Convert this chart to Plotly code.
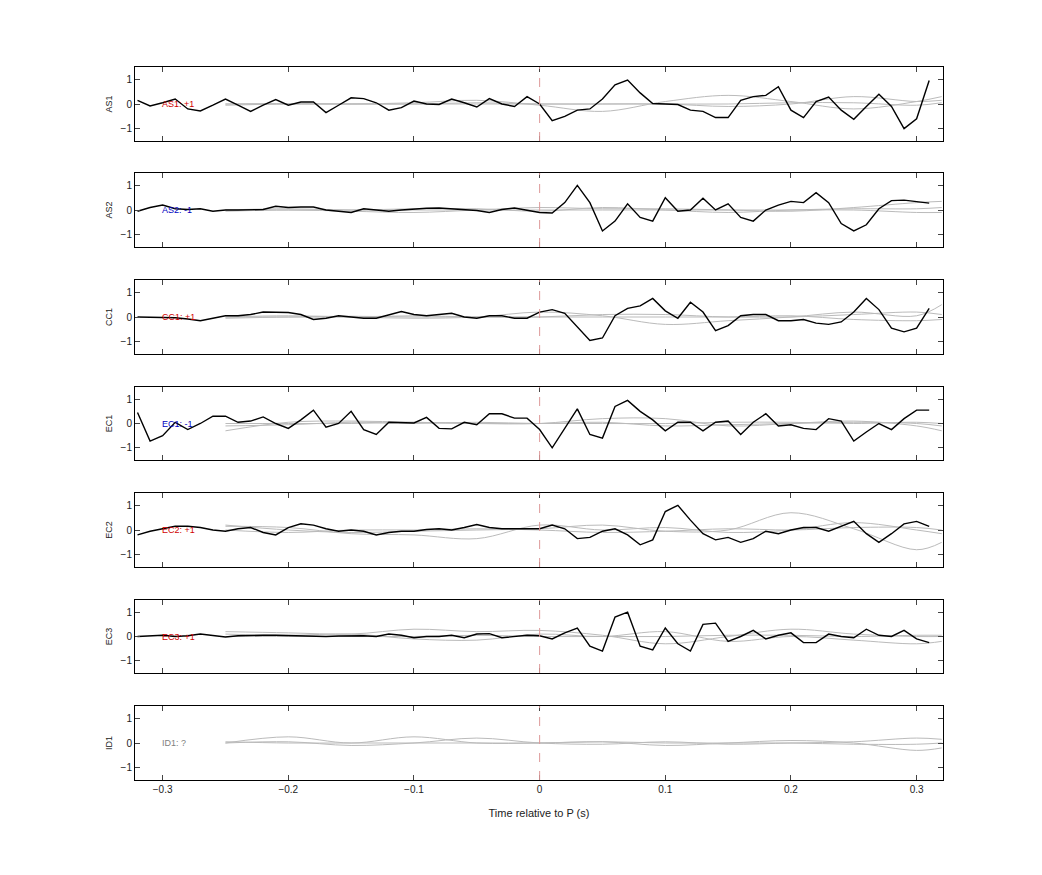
import plotly.graph_objects as go

T = [round(-0.32 + 0.01 * i, 2) for i in range(64)]
G_T = [-0.25, -0.2, -0.15, -0.1, -0.05, 0, 0.05, 0.1, 0.15, 0.2, 0.25, 0.3, 0.32]

NAMES = ["AS1", "AS2", "CC1", "EC1", "EC2", "EC3", "ID1"]
LABELS = ["AS1: +1", "AS2: -1", "CC1: +1", "EC1: -1", "EC2: +1", "EC3: +1", "ID1: ?"]
LABEL_COLORS = ["#d00000", "#0000c0", "#d00000", "#0000c0", "#d00000", "#d00000", "#808080"]

AS1 = [0.15,-0.08,0.05,0.2,-0.2,-0.28,-0.05,0.2,-0.05,-0.3,-0.05,0.18,-0.05,0.08,0.08,-0.35,-0.05,0.25,0.22,0.05,
       -0.25,-0.15,0.12,0.0,-0.02,0.2,0.05,-0.12,0.22,0.0,-0.1,0.3,0.0,-0.68,-0.5,-0.25,-0.2,0.2,0.78,0.97,
       0.45,0.02,0.0,-0.02,-0.25,-0.3,-0.55,-0.55,0.15,0.3,0.35,0.7,-0.25,-0.55,0.1,0.28,-0.25,-0.62,-0.1,0.4,
       -0.1,-1.0,-0.6,0.95]
AS2 = [-0.05,0.1,0.2,0.05,0.02,0.05,-0.05,0.0,0.0,0.0,0.02,0.15,0.1,0.12,0.12,0.0,-0.05,-0.1,0.05,0.0,
       -0.05,0.0,0.05,0.07,0.08,0.05,0.0,-0.02,-0.1,0.02,0.08,0.0,-0.1,-0.12,0.3,1.0,0.3,-0.85,-0.45,0.25,
       -0.3,-0.45,0.5,-0.05,0.0,0.48,0.0,0.25,-0.3,-0.45,0.0,0.2,0.35,0.3,0.7,0.3,-0.55,-0.85,-0.6,0.05,
       0.38,0.4,0.35,0.28]
CC1 = [0.0,0.0,0.0,-0.03,-0.08,-0.15,-0.05,0.05,0.05,0.1,0.2,0.18,0.18,0.1,-0.1,-0.05,0.05,0.0,-0.05,-0.05,
       0.1,0.22,0.1,0.05,0.1,0.15,0.0,-0.05,0.05,0.05,-0.05,-0.05,0.2,0.3,0.15,-0.4,-0.95,-0.85,0.05,0.35,
       0.45,0.75,0.25,-0.05,0.6,0.2,-0.55,-0.35,0.05,0.1,0.1,-0.15,-0.15,-0.1,-0.25,-0.3,-0.2,0.2,0.75,0.3,
       -0.45,-0.6,-0.45,0.35]
EC1 = [0.45,-0.72,-0.5,0.05,-0.25,0.0,0.3,0.3,0.05,0.1,0.27,0.0,-0.2,0.15,0.55,-0.15,0.0,0.5,-0.25,-0.45,
       0.05,0.05,0.02,0.25,-0.2,-0.22,0.05,-0.05,0.4,0.4,0.22,0.22,-0.25,-1.0,-0.2,0.6,-0.45,-0.6,0.7,0.95,
       0.5,0.15,-0.3,0.05,0.05,-0.3,0.05,0.1,-0.45,0.05,0.4,-0.1,-0.05,-0.2,-0.25,0.2,0.1,-0.72,-0.35,0.0,
       -0.25,0.2,0.55,0.55]
EC2 = [-0.2,-0.05,0.05,0.15,0.15,0.1,0.0,-0.05,0.05,0.1,-0.1,-0.2,0.1,0.25,0.2,0.05,-0.05,0.0,-0.05,-0.2,
       -0.1,-0.05,-0.05,0.02,0.05,0.0,0.1,0.22,0.1,0.05,0.05,0.05,0.05,0.2,0.05,-0.35,-0.3,-0.05,0.05,-0.2,
       -0.6,-0.4,0.75,1.0,0.4,-0.15,-0.4,-0.3,-0.5,-0.35,-0.05,-0.15,0.0,0.1,0.1,-0.05,0.15,0.35,-0.15,-0.5,
       -0.15,0.25,0.35,0.15]
EC3 = [0.0,0.02,0.05,0.0,0.03,0.1,0.03,-0.02,0.03,0.05,0.05,0.05,0.03,0.02,0.0,0.0,0.02,0.03,0.03,0.0,
       0.1,0.05,-0.05,0.0,0.0,0.05,-0.05,0.1,0.12,-0.05,0.0,0.05,0.03,-0.1,0.15,0.35,-0.4,-0.6,0.8,1.0,
       -0.4,-0.55,0.35,-0.3,-0.6,0.5,0.55,-0.2,0.0,0.25,-0.1,0.05,0.15,-0.25,-0.25,0.1,0.0,-0.05,0.3,0.05,
       0.0,0.25,-0.1,-0.25]
BLACK = [AS1, AS2, CC1, EC1, EC2, EC3, None]

GREY = [
    [[0,0,0,0.05,0.15,-0.05,-0.3,0.1,0.35,0.1,-0.2,0.1,0.3],
     [0,0.02,0,0,0.05,0,0,0,-0.1,0,0.3,0.1,0.15],
     [-0.05,0,0,0,0,0,0,0,0,0.05,0.05,-0.05,0.05]],
    [[-0.05,0,-0.05,-0.1,0,0.1,0.05,0.05,0,-0.05,0.1,0.3,0.35],
     [0,0.05,0,0.05,0.05,-0.05,0.1,0,-0.1,0,0.05,0.05,0.1],
     [0,0,0,0,0,0,0,0,0,0,0,-0.1,-0.1]],
    [[0,0.05,0,-0.05,0,0.2,0.05,-0.3,-0.15,0,0.2,0.05,0.5],
     [0,0,0,0.05,0,0,0.1,0.1,0,0.05,-0.1,-0.15,-0.1],
     [-0.05,0,0.03,0,0,0,0,0,0,0,0.1,0.2,0.1]],
    [[-0.3,0.05,0.1,0.05,0,0,0.2,0.2,-0.1,0,0.1,-0.1,-0.3],
     [-0.1,-0.05,0.05,0,0.05,0,0.05,-0.1,-0.05,0,0.05,0,-0.1],
     [0,0,0,0.05,0,0,0,0,0.05,0.05,0,0.05,0]],
    [[0.2,0,-0.1,-0.05,0,0.05,0.2,-0.05,0,0.7,0.05,-0.8,-0.5],
     [0.15,0.1,-0.15,-0.2,-0.35,0.2,0,0.1,-0.1,0,0.3,0,-0.15],
     [0,-0.1,0,0,0.05,0,-0.1,-0.05,0.05,0,0.1,0.1,0]],
    [[0.2,0.15,0.1,0.3,0.2,0.25,0.05,-0.3,0,0.3,0.1,0,0],
     [0.1,0.05,0.1,-0.1,-0.15,0.1,0,0.2,-0.2,0,-0.15,-0.3,-0.2],
     [0,0,0,0,0.05,0,0,0,0.05,0.05,0,0.05,0.05]],
    [[0,0.25,0,0.25,0,0,0.05,-0.1,0,0.1,0,-0.3,-0.2],
     [0,0.05,-0.1,0,0.2,0,-0.05,0.05,-0.05,0,0.05,0.2,0.15],
     [0.05,0,0,0,0,0,0.05,0,0,0,-0.05,-0.05,0]],
]

OFF = 8  # page body margin
W, H = 1042, 875
ML, MR, MT, MB = 135 - OFF, 99 + OFF, 67 - OFF, 95 + OFF
PANELS_PX = [(67, 141), (173, 247), (280, 354), (387, 460), (493, 567), (600, 673), (706, 780)]
ph = H - MT - MB

fig = go.Figure()
layout = {}
for i, name in enumerate(NAMES):
    k = "" if i == 0 else str(i + 1)
    top, bot = PANELS_PX[i]
    top -= OFF
    bot -= OFF
    dom = [(H - MB - bot) / ph, (H - MB - top) / ph]
    for g in GREY[i]:
        fig.add_trace(go.Scatter(x=G_T, y=g, mode="lines", line=dict(color="#bbbbbb", width=1, shape="spline"),
                                 xaxis="x" + k, yaxis="y" + k, showlegend=False, hoverinfo="skip"))
    if BLACK[i] is not None:
        fig.add_trace(go.Scatter(x=T, y=BLACK[i], mode="lines", line=dict(color="black", width=1.4),
                                 xaxis="x" + k, yaxis="y" + k, showlegend=False))
    fig.add_shape(type="line", x0=0, x1=0, y0=-1.5, y1=1.5, xref="x" + k, yref="y" + k,
                  line=dict(color="#d99", width=1, dash="dash"))
    fig.add_annotation(x=-0.302, y=0, xref="x" + k, yref="y" + k, text=LABELS[i], showarrow=False,
                       xanchor="left", font=dict(size=9, color=LABEL_COLORS[i]))
    common = dict(showline=True, mirror="ticks", linecolor="black", linewidth=1, ticks="inside",
                  ticklen=5, showgrid=False, zeroline=False, tickfont=dict(size=10, color="#222"))
    layout["xaxis" + k] = dict(common, range=[-0.322, 0.321], tickvals=[-0.3, -0.2, -0.1, 0, 0.1, 0.2, 0.3],
                               showticklabels=(i == 6), anchor="y" + k, domain=[0, 1],
                               title=dict(text="Time relative to P (s)", font=dict(size=11)) if i == 6 else None)
    layout["yaxis" + k] = dict(common, range=[-1.5, 1.5], tickvals=[-1, 0, 1], anchor="x" + k, domain=dom,
                               title=dict(text=name, font=dict(size=9), standoff=6))

fig.update_layout(width=W, height=H, margin=dict(l=ML, r=MR, t=MT, b=MB), plot_bgcolor="white",
                  paper_bgcolor="white", font=dict(family="Liberation Sans, Arial", color="#222"), **layout)
fig.write_html("out.html")
